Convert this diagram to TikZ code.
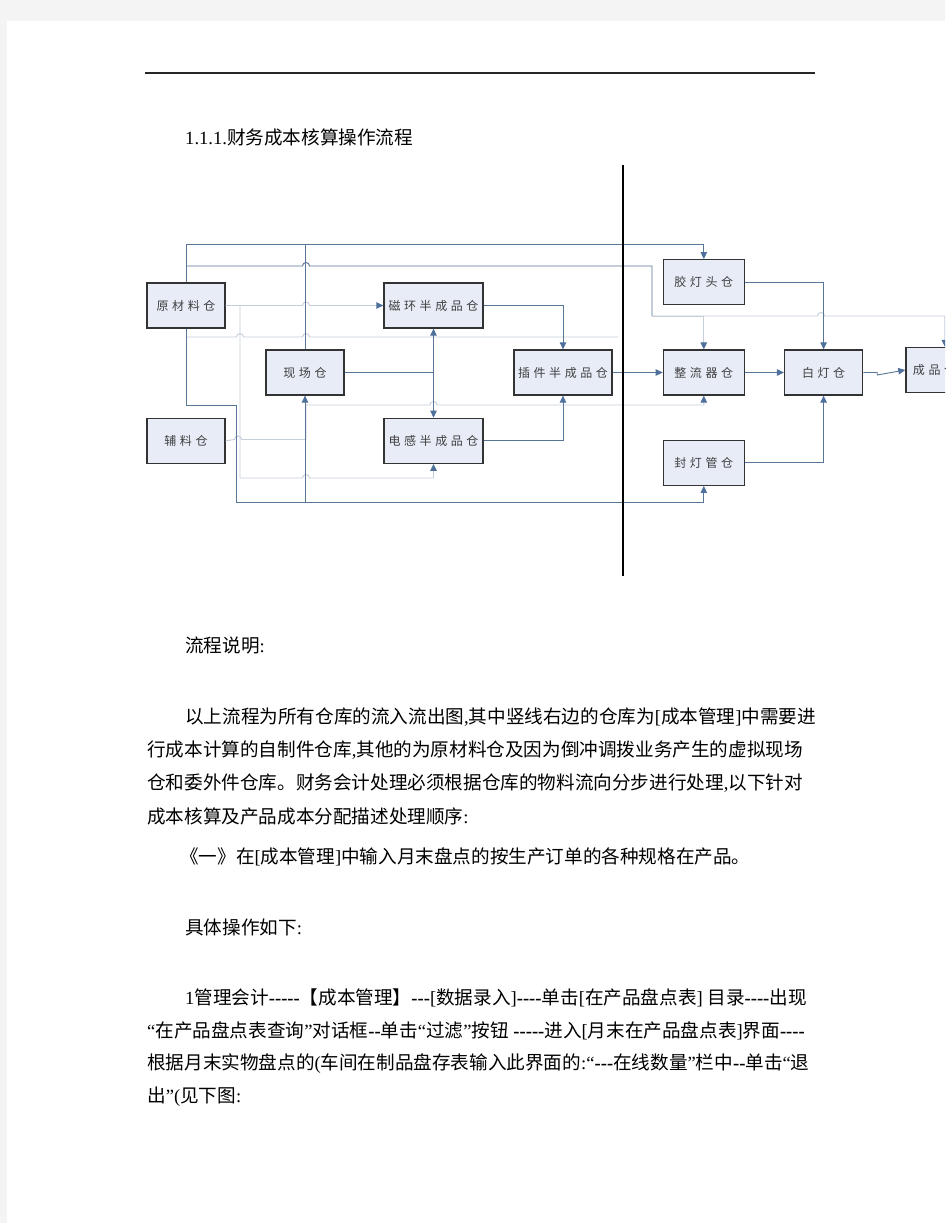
\documentclass[tikz,border=0pt]{standalone}
\usepackage{fontspec}
\setmainfont{Liberation Serif}
\newfontfamily\cjk{Noto Sans CJK SC}
\newfontfamily\boxfont{Noto Sans CJK SC}[LetterSpace=30]
\newfontfamily\lat{Liberation Serif}[Ligatures=TeXOff]
\newcommand\la[1]{{\lat #1}}
\newcommand\dashes[1]{{\lat\bfseries #1}}
\usetikzlibrary{positioning, arrows.meta}
\definecolor{boxfill}{RGB}{231,236,247}
\definecolor{wireblue}{RGB}{88,118,152}
\definecolor{wirefaint}{RGB}{198,206,217}
\definecolor{tipblue}{RGB}{78,112,155}
\definecolor{pagegrey}{RGB}{244,244,244}
\tikzset{
    x=1pt, y=-1pt, % one unit per pixel of the scanned page, y going down
    >={Triangle[length=7pt,width=6.5pt,color=tipblue]}, % filled arrow heads
    store/.style={rectangle, draw=black!80, line width=1.3pt, fill=boxfill,
        minimum width=78pt, minimum height=45pt, inner sep=0pt, text=black!75,
        font=\boxfont\fontsize{12}{13}\selectfont}, % one warehouse
    wire/.style={draw=wireblue, line width=0.9pt},
    flow/.style={wire, ->},
    faint/.style={draw=wirefaint, line width=0.9pt},
    faintto/.style={faint, ->},
    hop/.style 2 args={insert path={-- (#1-3.5,#2) arc[start angle=180, end angle=0, radius=3.5pt]}}, % line jump
    para/.style={anchor=west, inner sep=0pt, font=\cjk\fontsize{18.6}{20}\selectfont},
}
\begin{document}
\begin{tikzpicture}
\useasboundingbox (0,0) rectangle (945,1223);
\clip (0,0) rectangle (945,1223);
\fill[pagegrey] (0,0) rectangle (945,1223);
\fill[white] (7,21) rectangle (945,1223);
\draw[line width=1.2pt, black!85] (145,73) -- (815,73);
\node[para] (title) at (185,137) {\lat 1.1.1.\cjk 财务成本核算操作流程};

% warehouses left of the divider
\node[store]                                   (raw)  at (186,305.5) {原材料仓};
\node[store, below=89pt of raw]                (aux)  {辅料仓};
\node[store]                                   (site) at (305,372.5) {现场仓};
\node[store, minimum width=99pt]               (ring) at (433.5,305.5) {磁环半成品仓};
\node[store, minimum width=99pt, below=89pt of ring] (ind) {电感半成品仓};
\node[store, minimum width=98pt]               (plug) at (563,372.5) {插件半成品仓};
% warehouses right of the divider
\node[store, minimum width=81pt, right=50pt of plug] (rect) {整流器仓};
\node[store, minimum width=81pt, above=44pt of rect] (cap)  {胶灯头仓};
\node[store, minimum width=81pt, below=44pt of rect] (tube) {封灯管仓};
\node[store, right=39pt of rect]                     (white) {白灯仓};
\node[store, right=42pt of white, yshift=2.5pt, text width=64pt, align=left] (fin) {成品仓};

\coordinate (railA) at (0,244);
\coordinate (railB) at (0,266);
\coordinate (jn) at (652,316);
\coordinate (js) at (site.east -| ring.south);

% faint connectors
\draw[faintto] (raw.east) [hop={306}{305.5}] -- (ring.west);
\draw[faintto] (240,305.5) -- (240,478) [hop={306}{478}] -| (ind.south);
\draw[faint] (raw.south |- 0,337) [hop={240}{337}] [hop={306}{337}] -- (618,337);
\draw[faintto] (aux.east) [hop={238}{439.5}] -- (306,439.5) -- (306,405) [hop={433.5}{405}] -| (rect.south);
\draw[faintto] (jn) [hop={821}{316}] -| (fin.north);
\draw[faintto] (jn) -| (rect.north);

% main connectors
\draw[flow] (raw.north) -- (raw.north |- railA) -| (cap.north);
\draw[wire] (raw.north |- railB) [hop={306}{266}] -- (railB -| jn) -- (jn);
\draw[wire] (site.north) -- (site.north |- railA);
\draw[flow] (raw.south) -- (186,405) -- (236,405) -- (236,502) -| (tube.south);
\draw[flow] (site.south |- 0,502) -- (site.south);
\draw[wire] (site.east) -- (js);
\draw[flow] (js) -- (ring.south);
\draw[flow] (js) -- (ind.north);
\draw[flow] (ring.east) -| (plug.north);
\draw[flow] (ind.east) -| (plug.south);
\draw[flow] (plug.east) -- (rect.west);
\draw[flow] (rect.east) -- (white.west);
\draw[flow] (white.east) -- ++(14,0) -- ++(0,2.5) -- (fin.west);
\draw[flow] (cap.east) -| (white.north);
\draw[flow] (tube.east) -| (white.south);

% divider
\draw[line width=2.4pt] (623,165) -- (623,576);

% text under the chart
\node[para] (note)  at (185,645) {流程说明\la{:}};
\node[para] (p1)    at (185,717) {以上流程为所有仓库的流入流出图\la{,}其中竖线右边的仓库为\la{[}成本管理\la{]}中需要进};
\node[para] (p2)    at (147,750) {行成本计算的自制件仓库\la{,}其他的为原材料仓及因为倒冲调拨业务产生的虚拟现场};
\node[para] (p3)    at (147,783) {仓和委外件仓库。财务会计处理必须根据仓库的物料流向分步进行处理\la{,}以下针对};
\node[para] (p4)    at (147,816) {成本核算及产品成本分配描述处理顺序\la{:}};
\node[para] (step1) at (180,857) {《一》在\la{[}成本管理\la{]}中输入月末盘点的按生产订单的各种规格在产品。};
\node[para] (how)   at (185,927) {具体操作如下\la{:}};
\node[para] (op1)   at (185,998) {\la{1}管理会计\dashes{-----}【成本管理】\dashes{---}\la{[}数据录入\la{]}\dashes{----}单击\la{[}在产品盘点表\la{] }目录\dashes{----}出现};
\node[para] (op2)   at (147,1031) {\la{“}在产品盘点表查询\la{”}对话框\dashes{--}单击\la{“}过滤\la{”}按钮\la{ }\dashes{-----}进入\la{[}月末在产品盘点表\la{]}界面\dashes{----}};
\node[para] (op3)   at (147,1064) {根据月末实物盘点的\la{(}车间在制品盘存表输入此界面的\la{:“}\dashes{---}在线数量\la{”}栏中\dashes{--}单击\la{“}退};
\node[para] (op4)   at (147,1097) {出\la{”(}见下图\la{:}};
\end{tikzpicture}
\end{document}
